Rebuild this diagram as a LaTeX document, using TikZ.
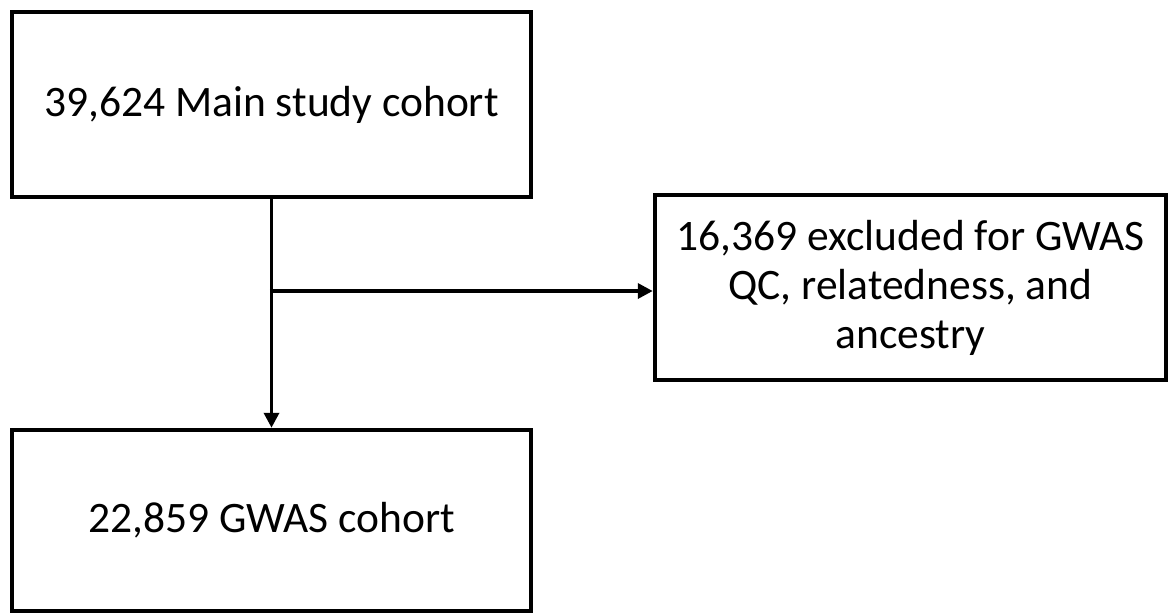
\documentclass[tikz,border=0pt]{standalone}
\usepackage{fontspec}
\setmainfont{Carlito}
\usetikzlibrary{arrows.meta}

\tikzset{
  cohortbox/.style={draw, line width=4.5pt, minimum width=519pt, minimum height=185pt, align=center, inner sep=0pt},
  flowarrow/.style={line width=3.5pt, -{Triangle[length=15pt, width=15pt]}}
}

\begin{document}
\begin{tikzpicture}[x=1pt, y=-1pt, font=\fontsize{43.5}{49}\selectfont]

\useasboundingbox (0,0) rectangle (1169,614);

\node [cohortbox] (main)     at (271.5,104.5) {39,624 Main study cohort};
\node [cohortbox, minimum width=511pt] (excluded) at (910.5,287.5) {16,369 excluded for GWAS\\ QC, relatedness, and\\ ancestry};
\node [cohortbox, minimum height=181pt] (gwas)     at (271.5,520.5) {22,859 GWAS cohort};

\coordinate (split) at (main.south |- 0,291);

\begin{scope}[flowarrow]
  \draw (main.south) -- (gwas.north);
  \draw [shorten <=-1.75pt] (split) -- (split -| excluded.west);
\end{scope}

\end{tikzpicture}
\end{document}
